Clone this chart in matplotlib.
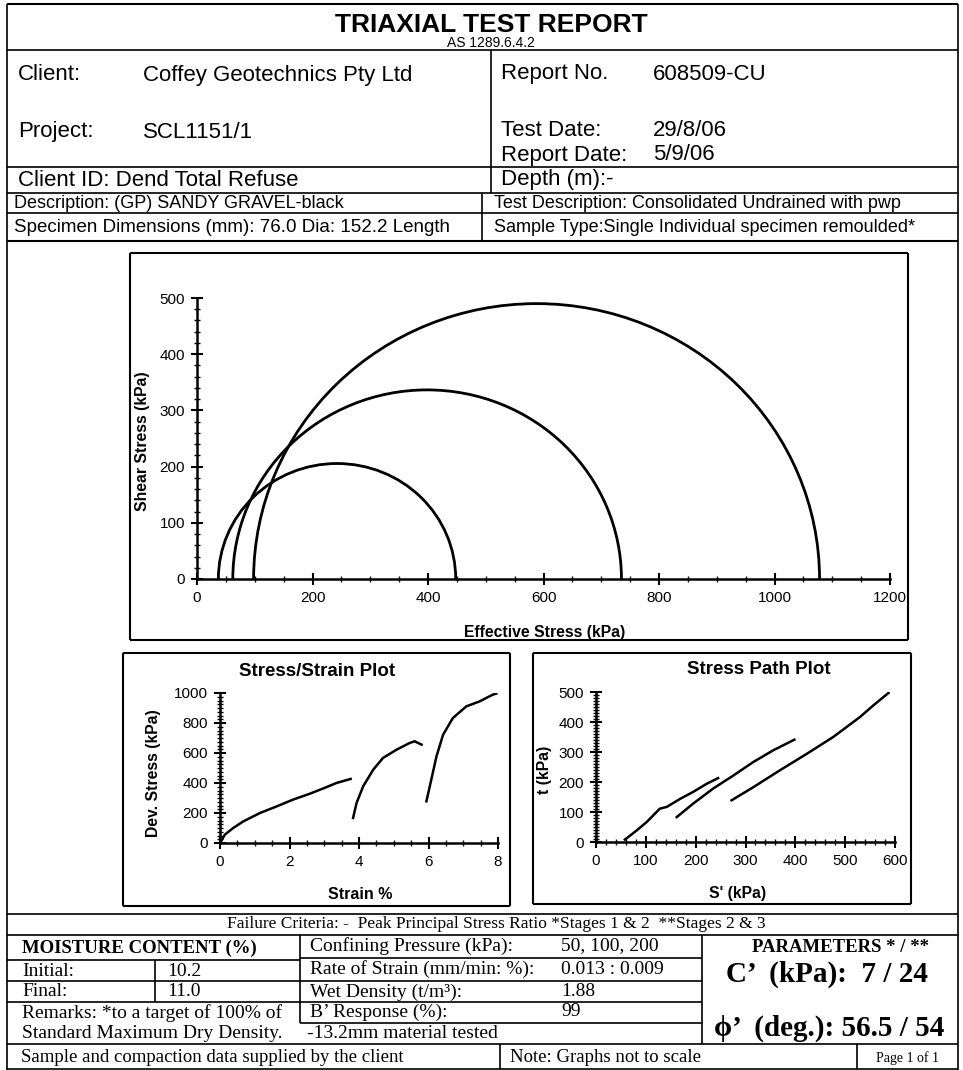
import matplotlib.pyplot as plt
from matplotlib.patches import Arc
from matplotlib.ticker import MultipleLocator

plt.rcParams['font.family'] = ['Liberation Sans', 'DejaVu Sans']
SERIF = ['Liberation Serif', 'DejaVu Serif']

# --- data ---
# Mohr circles (effective stresses at failure, kPa)
sigma3_eff = [37, 62, 98]
sigma1_eff = [448, 735, 1078]

# stress / strain curves (strain %, deviator stress kPa), one per stage
strain_1 = [0.0, 0.14, 0.38, 0.67, 1.15, 1.63, 2.10, 2.59, 3.07, 3.35, 3.76]
dev_1 = [0, 56, 100, 144, 200, 244, 289, 329, 373, 400, 427]
strain_2 = [3.83, 3.93, 4.12, 4.41, 4.69, 5.08, 5.46, 5.60, 5.80]
dev_2 = [167, 267, 378, 489, 567, 622, 667, 678, 656]
strain_3 = [5.94, 6.08, 6.23, 6.42, 6.70, 7.09, 7.47, 7.85, 7.95]
dev_3 = [278, 422, 578, 722, 833, 911, 944, 989, 996]

# stress paths (s', t in kPa)
s_1 = [58, 82, 102, 128, 142, 169, 195, 222, 245]
t_1 = [8, 39, 67, 111, 117, 144, 167, 194, 213]
s_2 = [162, 195, 235, 276, 316, 356, 398]
t_2 = [83, 128, 178, 222, 267, 306, 341]
s_3 = [272, 316, 369, 423, 476, 530, 557, 587]
t_3 = [139, 183, 239, 294, 350, 417, 456, 497]

W, H = 963, 1070
fig = plt.figure(figsize=(W / 100, H / 100), dpi=100)
bg = fig.add_axes([0, 0, 1, 1])
bg.set_xlim(0, W)
bg.set_ylim(H, 0)
bg.axis('off')


def hl(y, x0, x1, lw=1.2):
    bg.plot([x0, x1], [y, y], color='black', lw=lw, solid_capstyle='butt')


def vl(x, y0, y1, lw=1.2):
    bg.plot([x, x], [y0, y1], color='black', lw=lw, solid_capstyle='butt')


def box(x0, y0, x1, y1, lw=1.5):
    hl(y0, x0, x1, lw)
    hl(y1, x0, x1, lw)
    vl(x0, y0, y1, lw)
    vl(x1, y0, y1, lw)


def txt(x, y, s, size, ha='left', serif=False, bold=False):
    bg.text(x, y, s, fontsize=size, ha=ha, va='center',
            family=SERIF if serif else None,
            fontweight='bold' if bold else 'normal')


def rect(x0, y0, x1, y1):
    return [x0 / W, (H - y1) / H, (x1 - x0) / W, (y1 - y0) / H]


def style(ax, xmaj, xmin, ymaj, ymin, fs=11):
    for side in ['top', 'right']:
        ax.spines[side].set_visible(False)
    for side in ['left', 'bottom']:
        ax.spines[side].set_linewidth(1.8)
    ax.patch.set_alpha(0)
    ax.xaxis.set_major_locator(MultipleLocator(xmaj))
    ax.xaxis.set_minor_locator(MultipleLocator(xmin))
    ax.yaxis.set_major_locator(MultipleLocator(ymaj))
    ax.yaxis.set_minor_locator(MultipleLocator(ymin))
    ax.tick_params(which='major', direction='inout', length=9, width=1.5,
                   labelsize=fs, pad=4)
    ax.tick_params(which='minor', direction='inout', length=5, width=1)


# ---------------- header ----------------
hl(4, 7, 958, 1.5)
vl(7, 4, H)
vl(958, 4, H)
txt(491, 25, 'TRIAXIAL TEST REPORT', 19, ha='center', bold=True)
txt(491, 43, 'AS 1289.6.4.2', 10, ha='center')
hl(50, 7, 958)
vl(491, 50, 193)
txt(18, 75, 'Client:', 16)
txt(143, 75, 'Coffey Geotechnics Pty Ltd', 16)
txt(501, 74, 'Report No.', 16)
txt(653, 74, '608509-CU', 16)
txt(18, 132, 'Project:', 16)
txt(143, 132, 'SCL1151/1', 16)
txt(501, 130, 'Test Date:', 16)
txt(653, 130, '29/8/06', 16)
txt(501, 155, 'Report Date:', 16)
txt(653, 155, '5/9/06', 16)
hl(167, 7, 958)
txt(18, 181, 'Client ID: Dend Total Refuse', 16)
txt(501, 180, 'Depth (m):-', 16)
hl(193, 7, 958)
vl(482, 193, 241)
txt(14, 203, 'Description: (GP) SANDY GRAVEL-black', 13)
txt(494, 203, 'Test Description: Consolidated Undrained with pwp', 13)
hl(213, 7, 958)
txt(14, 227, 'Specimen Dimensions (mm): 76.0 Dia: 152.2 Length', 13.5)
txt(494, 227, 'Sample Type:Single Individual specimen remoulded*', 13)
hl(241, 7, 958, 1.5)

# ---------------- Mohr circles ----------------
box(130, 253, 908, 640)
ax = fig.add_axes(rect(197, 298, 890, 579))
for s3, s1 in zip(sigma3_eff, sigma1_eff):
    c = (s1 + s3) / 2
    d = s1 - s3
    ax.add_patch(Arc((c, 0), d, d, theta1=0, theta2=180, color='black', lw=2))
ax.set_xlim(0, 1200)
ax.set_ylim(0, 500)
style(ax, 200, 50, 100, 20, fs=11)
ax.set_xlabel('Effective Stress (kPa)', fontsize=11.3, fontweight='bold')
ax.set_ylabel('Shear Stress (kPa)', fontsize=11.3, fontweight='bold', va='center')
ax.xaxis.set_label_coords(0.502, -0.164)
ax.yaxis.set_label_coords(-0.078, 0.49)

# ---------------- stress / strain ----------------
box(123, 653, 510, 906)
txt(317, 671, 'Stress/Strain Plot', 13.5, ha='center', bold=True)
ax2 = fig.add_axes(rect(220, 693, 498, 843))
for x, y in [(strain_1, dev_1), (strain_2, dev_2), (strain_3, dev_3)]:
    ax2.plot(x, y, color='black', lw=1.8)
ax2.set_xlim(0, 8)
ax2.set_ylim(0, 1000)
style(ax2, 2, 0.5, 200, 25, fs=11)
ax2.set_xlabel('Strain %', fontsize=11.5, fontweight='bold')
ax2.set_ylabel('Dev. Stress (kPa)', fontsize=11.3, fontweight='bold', va='center')
ax2.xaxis.set_label_coords(0.504, -0.293)
ax2.yaxis.set_label_coords(-0.241, 0.467)

# ---------------- stress path ----------------
box(533, 653, 911, 904)
txt(759, 669, 'Stress Path Plot', 13.5, ha='center', bold=True)
ax3 = fig.add_axes(rect(596, 692, 895, 842))
for x, y in [(s_1, t_1), (s_2, t_2), (s_3, t_3)]:
    ax3.plot(x, y, color='black', lw=1.8)
ax3.set_xlim(0, 600)
ax3.set_ylim(0, 500)
style(ax3, 100, 20, 100, 10, fs=11)
ax3.set_xlabel("S' (kPa)", fontsize=11.3, fontweight='bold')
ax3.set_ylabel('t (kPa)', fontsize=11.3, fontweight='bold', va='center')
ax3.xaxis.set_label_coords(0.475, -0.293)
ax3.yaxis.set_label_coords(-0.171, 0.48)

# ---------------- bottom table ----------------
hl(914, 7, 958)
txt(496, 924, 'Failure Criteria: -  Peak Principal Stress Ratio *Stages 1 & 2  **Stages 2 & 3',
    12.5, ha='center', serif=True)
hl(935, 7, 958)
vl(300, 935, 1023)
vl(702, 935, 1044)
txt(22, 948, 'MOISTURE CONTENT (%)', 13.5, serif=True, bold=True)
hl(960, 7, 300)
vl(155, 960, 1002)
txt(22, 971, 'Initial:', 14, serif=True)
txt(167, 971, '10.2', 14, serif=True)
hl(981, 7, 300)
txt(22, 992, 'Final:', 14, serif=True)
txt(167, 992, '11.0', 14, serif=True)
hl(1002, 7, 702)
txt(22, 1013, 'Remarks: *to a target of 100% of', 14, serif=True)
txt(22, 1034, 'Standard Maximum Dry Density.', 14, serif=True)

txt(310, 946, 'Confining Pressure (kPa):', 14, serif=True)
txt(561, 946, '50, 100, 200', 14, serif=True)
hl(958, 300, 702)
txt(310, 969, 'Rate of Strain (mm/min: %):', 14, serif=True)
txt(561, 969, '0.013 : 0.009', 14, serif=True)
hl(981, 300, 702)
txt(310, 992, 'Wet Density (t/m³):', 14, serif=True)
txt(561, 991, '1.88', 14, serif=True)
txt(310, 1012, 'B’ Response (%):', 14, serif=True)
txt(561, 1011, '99', 14, serif=True)
hl(1023, 300, 702)
txt(307, 1034, '-13.2mm material tested', 14, serif=True)

txt(841, 947, 'PARAMETERS * / **', 13.5, ha='center', serif=True, bold=True)
txt(827, 974, 'C’  (kPa):  7 / 24', 21, ha='center', serif=True, bold=True)
txt(829, 1028, 'ϕ’  (deg.): 56.5 / 54', 21, ha='center', serif=True, bold=True)

hl(1044, 7, 958)
vl(500, 1044, 1069)
vl(857, 1044, 1069)
hl(1069, 7, 958)
txt(21, 1058, 'Sample and compaction data supplied by the client', 13.5, serif=True)
txt(510, 1058, 'Note: Graphs not to scale', 13.5, serif=True)
txt(907, 1058, 'Page 1 of 1', 10, ha='center', serif=True)

fig.savefig('out.png', dpi=100)
